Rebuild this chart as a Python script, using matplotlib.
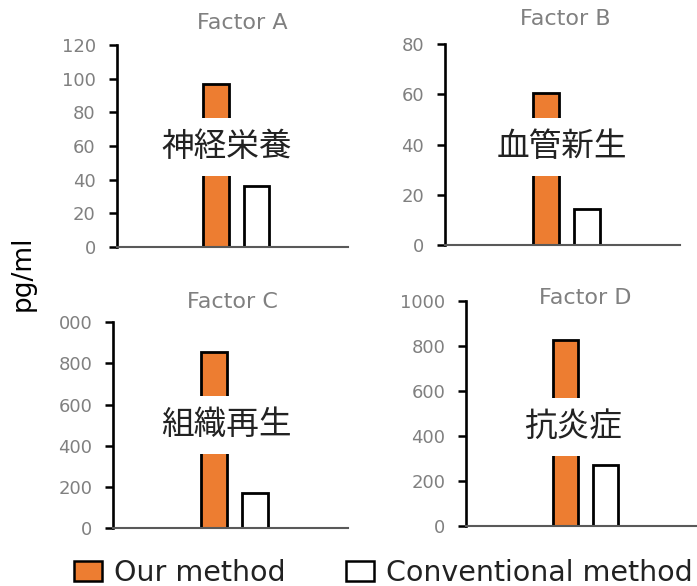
import matplotlib
matplotlib.use('Agg')
import matplotlib.pyplot as plt
from matplotlib.patches import Patch

plt.rcParams['font.family'] = ['DejaVu Sans', 'Noto Sans CJK JP']

# データ
factors = ['Factor A', 'Factor B', 'Factor C', 'Factor D']
labels_jp = ['神経栄養', '血管新生', '組織再生', '抗炎症']
our_method = [97, 60.5, 857, 826]
conventional = [36.4, 14.3, 170, 269]
y_max = [120, 80, 1000, 1000]
y_step = [20, 20, 200, 200]
top_tick_text = ['120', '80', '000', '1000']
legend_labels = ['Our method', 'Conventional method']

orange = '#ED7D31'
gray = '#808080'

fig = plt.figure(figsize=(6.97, 5.86), dpi=100)

# 各パネルの位置 (left, bottom, width, height)
rects = [
    (0.1674, 0.5785, 0.332, 0.3447),
    (0.6385, 0.5819, 0.337, 0.3425),
    (0.1621, 0.0985, 0.337, 0.3515),
    (0.6686, 0.1024, 0.3314, 0.3845),
]
title_pos = [(0.347, 0.961), (0.811, 0.968), (0.334, 0.485), (0.839, 0.491)]
label_pos = [(0.325, 0.749), (0.806, 0.749), (0.325, 0.275), (0.822, 0.272)]

for i in range(4):
    ax = fig.add_axes(rects[i])
    ax.bar(0.43, our_method[i], width=0.11, color=orange, edgecolor='black', linewidth=2.0, zorder=2)
    ax.bar(0.605, conventional[i], width=0.11, color='white', edgecolor='black', linewidth=2.0, zorder=2)
    ax.set_xlim(0, 1)
    ax.set_ylim(0, y_max[i])
    ticks = list(range(0, y_max[i] + 1, y_step[i]))
    ax.set_yticks(ticks)
    ax.set_yticklabels([str(t) for t in ticks[:-1]] + [top_tick_text[i]])
    ax.set_xticks([])
    for s in ['top', 'right']:
        ax.spines[s].set_visible(False)
    ax.spines['left'].set_color('black')
    ax.spines['left'].set_linewidth(1.9)
    ax.spines['bottom'].set_color('#595959')
    ax.spines['bottom'].set_linewidth(1.5)
    ax.tick_params(axis='y', colors='black', labelcolor=gray, labelsize=13,
                   length=6, width=1.8, pad=9)
    ax.patch.set_alpha(0)
    fig.text(title_pos[i][0], title_pos[i][1], factors[i], ha='center', va='center',
             fontsize=16, color=gray)
    fig.text(label_pos[i][0], label_pos[i][1], labels_jp[i], ha='center', va='center',
             fontsize=23.5, color='#222222', family=['Noto Sans CJK JP', 'DejaVu Sans'],
             bbox=dict(boxstyle='square,pad=0.4', facecolor='white', edgecolor='none'),
             zorder=5)

fig.text(0.032, 0.534, 'pg/ml', rotation=90, ha='center', va='center', fontsize=19, color='black')

handles = [Patch(facecolor=orange, edgecolor='black', linewidth=1.8),
           Patch(facecolor='white', edgecolor='black', linewidth=1.8)]
fig.legend(handles, legend_labels, loc='lower center', bbox_to_anchor=(0.55, -0.026),
           ncol=2, frameon=False, fontsize=20.5, handlelength=1.0, handleheight=0.75,
           handletextpad=0.42, columnspacing=2.1, borderpad=0.0,
           labelcolor='#222222')

fig.savefig('out.png', dpi=100)
